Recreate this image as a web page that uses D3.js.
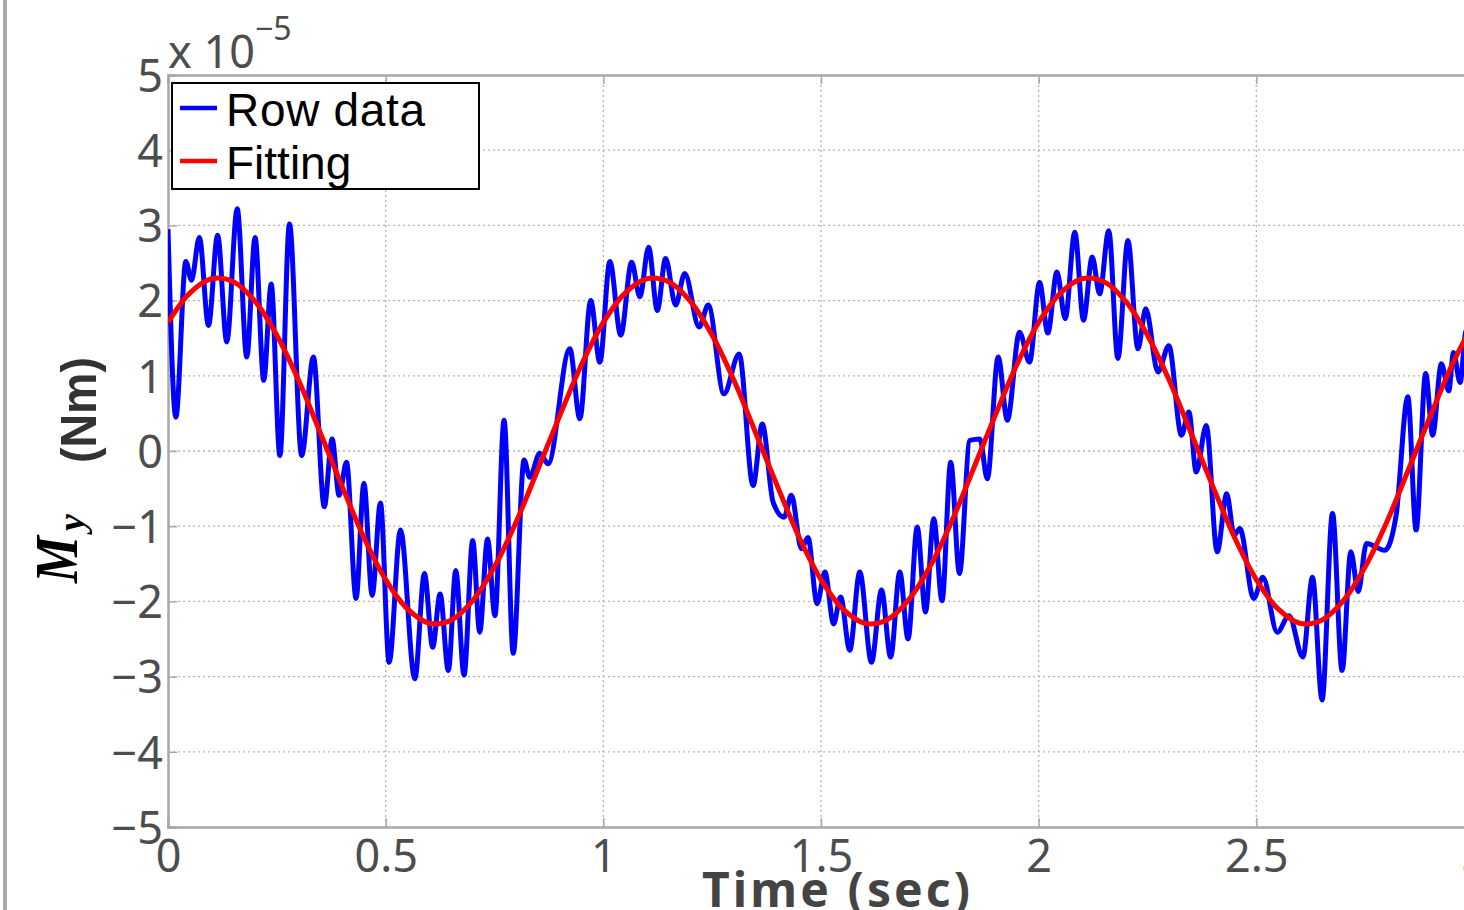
<!DOCTYPE html>
<html>
<head>
<meta charset="utf-8">
<script src="https://cdn.jsdelivr.net/npm/d3@7"></script>
<style>
    body { margin: 0; background: #fff; }
    #chart { display: block; }
    .tick-label { font-family: "Noto Sans", sans-serif; font-size: 45px; fill: #4d4d4d; }
</style>
</head>
<body>
<svg id="chart" width="1464" height="910"></svg>
<script>
    // raw measurement, read peak by peak off the figure (time in s, moment in 1e-5 Nm)
    const rawTime = [0.000, 0.018, 0.041, 0.054, 0.072, 0.093, 0.114, 0.135, 0.159, 0.181,
        0.200, 0.220, 0.237, 0.257, 0.279, 0.307, 0.334, 0.359, 0.377, 0.393,
        0.410, 0.432, 0.450, 0.469, 0.488, 0.508, 0.534, 0.567, 0.589, 0.608,
        0.625, 0.644, 0.661, 0.680, 0.700, 0.716, 0.734, 0.751, 0.772, 0.793,
        0.818, 0.831, 0.854, 0.873, 0.923, 0.946, 0.971, 0.992, 1.015, 1.040,
        1.065, 1.084, 1.104, 1.124, 1.143, 1.166, 1.187, 1.220, 1.241, 1.277,
        1.312, 1.344, 1.365, 1.390, 1.415, 1.432, 1.455, 1.470, 1.491, 1.509,
        1.529, 1.545, 1.566, 1.589, 1.616, 1.639, 1.660, 1.681, 1.700, 1.721,
        1.740, 1.759, 1.778, 1.798, 1.818, 1.842, 1.865, 1.882, 1.907, 1.928,
        1.956, 1.979, 2.002, 2.021, 2.042, 2.061, 2.083, 2.103, 2.123, 2.140,
        2.161, 2.182, 2.205, 2.228, 2.246, 2.274, 2.299, 2.328, 2.345, 2.362,
        2.385, 2.410, 2.432, 2.449, 2.462, 2.494, 2.515, 2.548, 2.575, 2.607,
        2.629, 2.651, 2.675, 2.697, 2.717, 2.734, 2.753, 2.795, 2.821, 2.848,
        2.867, 2.889, 2.905, 2.925, 2.942, 2.953, 2.968, 2.982, 3.000];
    const rawMoment = [2.95, 0.45, 2.52, 2.27, 2.84, 1.67, 2.87, 1.45, 3.22, 1.25,
        2.84, 0.94, 2.22, -0.06, 3.02, -0.06, 1.25, -0.74, 0.16, -0.59,
        -0.15, -1.96, -0.43, -1.92, -0.69, -2.81, -1.05, -3.03, -1.63, -2.61,
        -1.90, -2.92, -1.59, -2.98, -1.19, -2.41, -1.17, -2.19, 0.41, -2.69,
        -0.12, -0.35, -0.03, -0.17, 1.36, 0.43, 2.00, 1.18, 2.52, 1.54,
        2.51, 2.05, 2.71, 1.87, 2.56, 1.94, 2.36, 1.65, 1.94, 0.76,
        1.29, -0.46, 0.36, -0.68, -0.88, -0.59, -1.30, -1.15, -2.03, -1.61,
        -2.30, -1.94, -2.65, -1.61, -2.81, -1.85, -2.74, -1.61, -2.50, -1.01,
        -2.14, -0.90, -1.99, -0.15, -1.63, 0.14, 0.16, -0.37, 1.25, 0.41,
        1.58, 1.18, 2.24, 1.57, 2.38, 1.76, 2.91, 1.74, 2.58, 2.09,
        2.93, 1.23, 2.80, 1.36, 1.89, 1.05, 1.40, 0.21, 0.52, -0.28,
        0.34, -1.34, -0.57, -1.12, -1.03, -1.96, -1.68, -2.41, -2.19, -2.74,
        -1.68, -3.31, -0.83, -2.92, -1.34, -1.87, -1.23, -1.32, -0.86, 0.72,
        -1.05, 1.03, 0.21, 1.16, 0.80, 1.31, 0.91, 1.60, 1.40];

    // fitted sinusoid, read every 0.05 s
    const fitTime = d3.range(61).map(i => +(i * 0.05).toFixed(2));
    const fitMoment = [1.71, 2.10, 2.29, 2.25, 1.99, 1.54, 0.94, 0.24, -0.47, -1.15,
        -1.71, -2.10, -2.29, -2.25, -1.99, -1.54, -0.94, -0.24, 0.47, 1.15,
        1.71, 2.10, 2.29, 2.25, 1.99, 1.54, 0.94, 0.24, -0.47, -1.15,
        -1.71, -2.10, -2.29, -2.25, -1.99, -1.54, -0.94, -0.24, 0.47, 1.15,
        1.71, 2.10, 2.29, 2.25, 1.99, 1.54, 0.94, 0.24, -0.47, -1.15,
        -1.71, -2.10, -2.29, -2.25, -1.99, -1.54, -0.94, -0.24, 0.47, 1.15,
        1.71];

    const xTicks = [0, 0.5, 1, 1.5, 2, 2.5, 3];
    const yTicks = [-5, -4, -3, -2, -1, 0, 1, 2, 3, 4, 5];
    const legendLabels = ["Row data", "Fitting"];
    const seriesColors = ["#0000ff", "#ff0000"];

    const svg = d3.select("#chart");
    const x = d3.scaleLinear().domain([0, 3]).range([168, 1474]);
    const y = d3.scaleLinear().domain([-5, 5]).range([827, 75]);

    // screen edge on the left
    svg.append("rect").attr("x", 3).attr("y", 0).attr("width", 4).attr("height", 910).attr("fill", "#a9a9a9");

    // grid
    let grid = svg.append("g").attr("stroke", "#b4b4b4").attr("stroke-width", 1.3).attr("stroke-dasharray", "2,3");
    grid.selectAll("line.gx").data(xTicks.slice(1)).enter().append("line")
        .attr("x1", d => x(d)).attr("x2", d => x(d)).attr("y1", y(-5)).attr("y2", y(5));
    grid.selectAll("line.gy").data(yTicks.slice(1, -1)).enter().append("line")
        .attr("x1", x(0)).attr("x2", x(3)).attr("y1", d => y(d)).attr("y2", d => y(d));

    // axes (MATLAB box style, ticks inside)
    let xAxis = d3.axisBottom(x).tickValues(xTicks).tickSize(-9).tickPadding(18).tickFormat(d3.format("~g"));
    let yAxis = d3.axisLeft(y).tickValues(yTicks).tickSize(-9).tickPadding(6)
        .tickFormat(d => d < 0 ? "\u2212" + Math.abs(d) : d);
    let gx = svg.append("g").attr("transform", `translate(0,${y(-5)})`).call(xAxis);
    let gy = svg.append("g").attr("transform", `translate(${x(0)},0)`).call(yAxis);
    let gTop = svg.append("g").attr("transform", `translate(0,${y(5)})`)
        .call(d3.axisTop(x).tickValues(xTicks).tickSize(-9).tickFormat(""));
    [gx, gy, gTop].forEach(g => {
        g.select(".domain").attr("stroke", "#a8a8a8").attr("stroke-width", 2.5);
        g.selectAll(".tick line").attr("stroke", "#a8a8a8").attr("stroke-width", 1.5);
        g.selectAll(".tick text").attr("class", "tick-label").attr("font-size", null).attr("font-family", null).attr("fill", null);
    });
    gx.selectAll(".tick text").attr("dy", "0.71em").attr("y", 13);
    gy.selectAll(".tick text").attr("dy", "0.36em").attr("x", -5);

    // exponent
    let expo = svg.append("text").attr("class", "tick-label").attr("x", 168).attr("y", 68).attr("font-size", 47);
    expo.append("tspan").text("x 10");
    expo.append("tspan").attr("dy", -28).attr("font-size", 32).text("\u22125");

    // data
    let clip = svg.append("clipPath").attr("id", "plot-clip");
    clip.append("rect").attr("x", x(0)).attr("y", y(5)).attr("width", x(3) - x(0)).attr("height", y(-5) - y(5));
    let plot = svg.append("g").attr("clip-path", "url(#plot-clip)");

    let rawLine = d3.line().x(d => x(d[0])).y(d => y(d[1])).curve(d3.curveMonotoneX);
    let fitLine = d3.line().x(d => x(d[0])).y(d => y(d[1])).curve(d3.curveCatmullRom);

    plot.append("path").datum(d3.zip(rawTime, rawMoment))
        .attr("d", rawLine).attr("fill", "none").attr("stroke", seriesColors[0])
        .attr("stroke-width", 5).attr("stroke-linejoin", "round");
    plot.append("path").datum(d3.zip(fitTime, fitMoment))
        .attr("d", fitLine).attr("fill", "none").attr("stroke", seriesColors[1])
        .attr("stroke-width", 5).attr("stroke-linejoin", "round");

    // legend
    let legend = svg.append("g");
    legend.append("rect").attr("x", 172).attr("y", 83).attr("width", 307).attr("height", 106)
        .attr("fill", "#fff").attr("stroke", "#000").attr("stroke-width", 2);
    legendLabels.forEach((label, i) => {
        let ly = 108 + i * 53;
        legend.append("line").attr("x1", 180).attr("x2", 217).attr("y1", ly).attr("y2", ly)
            .attr("stroke", seriesColors[i]).attr("stroke-width", 4.5);
        legend.append("text").attr("x", 226).attr("y", ly + 18)
            .attr("font-family", "'Liberation Sans', Arial, sans-serif").attr("font-size", 46)
            .attr("fill", "#000").attr("textLength", 199).text(label === "Row data" ? label : label)
            .attr("textLength", i === 0 ? 199 : null);
    });

    // axis titles
    svg.append("text").attr("x", 702).attr("y", 907)
        .attr("font-family", "'Noto Sans', sans-serif").attr("font-size", 48).attr("font-weight", "bold")
        .attr("fill", "#444").attr("textLength", 268).text("Time (sec)");

    let yTitle = svg.append("g").attr("transform", "rotate(-90)");
    yTitle.append("text").attr("x", -583).attr("y", 77)
        .attr("font-family", "'Liberation Serif', 'Times New Roman', serif").attr("font-size", 62)
        .attr("font-weight", "bold").attr("font-style", "italic").attr("fill", "#000")
        .attr("textLength", 47).attr("lengthAdjust", "spacingAndGlyphs").text("M");
    yTitle.append("text").attr("x", -531).attr("y", 84)
        .attr("font-family", "'Liberation Serif', 'Times New Roman', serif").attr("font-size", 38)
        .attr("font-weight", "bold").attr("font-style", "italic").attr("fill", "#000").text("y");
    yTitle.append("text").attr("x", -463).attr("y", 96)
        .attr("font-family", "'Liberation Sans', Arial, sans-serif").attr("font-size", 50)
        .attr("font-weight", "bold").attr("fill", "#333")
        .attr("textLength", 106).attr("lengthAdjust", "spacingAndGlyphs").text("(Nm)");
</script>
</body>
</html>
